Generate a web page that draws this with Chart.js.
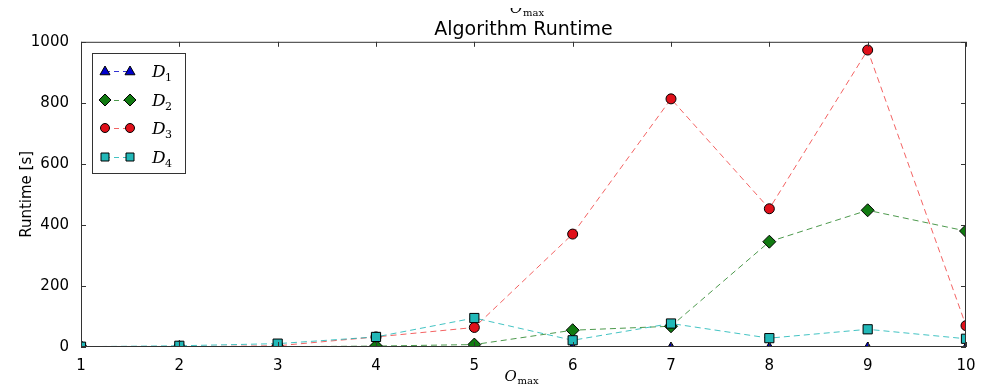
<!DOCTYPE html>
<html>
<head>
<meta charset="utf-8">
<script src="https://cdn.jsdelivr.net/npm/chart.js@4/dist/chart.umd.min.js"></script>
<style>
  html, body { margin: 0; padding: 0; background: #fff; }
  #wrap { width: 997px; height: 387px; }
</style>
</head>
<body>
<div id="wrap"><canvas id="runtime"></canvas></div>
<script>
'use strict';

// x axis: O_max values
var oMax = ['1', '2', '3', '4', '5', '6', '7', '8', '9', '10'];
var yTicks = [0, 200, 400, 600, 800, 1000];

// runtime in seconds
var d1 = [0, 0, 0, 0, 0, 0, 0, 0, 0, 0];
var d2 = [0, 0, 1, 3, 8, 55, 68, 345, 448, 380];
var d3 = [0, 1, 4, 33, 64, 370, 813, 453, 973, 70];
var d4 = [1, 4, 11, 33, 95, 22, 77, 29, 58, 27];

var seriesNames = ['D', 'D', 'D', 'D'];
var seriesSubs = ['1', '2', '3', '4'];

function drawMarker(ctx, style, r, x, y) {
  if (style === 'triangle') {
    ctx.moveTo(x, y - r);
    ctx.lineTo(x + r, y + r * 0.75);
    ctx.lineTo(x - r, y + r * 0.75);
    ctx.closePath();
  } else if (style === 'rectRot') {
    ctx.moveTo(x, y - r);
    ctx.lineTo(x + r, y);
    ctx.lineTo(x, y + r);
    ctx.lineTo(x - r, y);
    ctx.closePath();
  } else if (style === 'rect') {
    ctx.rect(x - r, y - r, r * 2, r * 2);
  } else {
    ctx.arc(x, y, r, 0, Math.PI * 2);
  }
}

// marker sizes used in the legend box
var legendSizes = [5, 6, 4.5, 4];

// frame + inward ticks on all four sides, like matplotlib
var framePlugin = {
  id: 'frame',
  afterDatasetsDraw: function(chart) {
    var ctx = chart.ctx;
    var a = chart.chartArea;
    var xs = chart.scales.x;
    var ys = chart.scales.y;
    ctx.save();
    ctx.strokeStyle = '#333';
    ctx.lineWidth = 1;
    ctx.strokeRect(a.left + 0.5, a.top + 0.5, a.right - a.left - 1, a.bottom - a.top - 1);
    ctx.beginPath();
    oMax.forEach(function(lbl, i) {
      var px = Math.round(xs.getPixelForValue(i)) + 0.5;
      ctx.moveTo(px, a.bottom); ctx.lineTo(px, a.bottom - 5);
      ctx.moveTo(px, a.top); ctx.lineTo(px, a.top + 5);
    });
    yTicks.forEach(function(v) {
      var py = Math.round(ys.getPixelForValue(v)) + 0.5;
      ctx.moveTo(a.left, py); ctx.lineTo(a.left + 5, py);
      ctx.moveTo(a.right, py); ctx.lineTo(a.right - 5, py);
    });
    ctx.stroke();
    ctx.restore();
  },
  afterDraw: function(chart) {
    var ctx = chart.ctx;
    var a = chart.chartArea;
    ctx.save();
    // x axis label O_max
    var cx = (a.left + a.right) / 2;
    ctx.fillStyle = '#000';
    ctx.textBaseline = 'alphabetic';
    ctx.textAlign = 'left';
    ctx.font = 'italic 15px "DejaVu Serif", serif';
    ctx.fillText('O', cx - 19, 381);
    ctx.font = '10px "DejaVu Serif", serif';
    ctx.fillText('max', cx - 6, 384);
    // clipped copy of the label at the very top
    ctx.save();
    ctx.beginPath();
    ctx.rect(490, 8, 80, 10);
    ctx.clip();
    ctx.font = 'italic 15px "DejaVu Serif", serif';
    ctx.fillText('O', 510, 13);
    ctx.font = '10px "DejaVu Serif", serif';
    ctx.fillText('max', 523, 16);
    ctx.restore();

    // legend box
    var lx = 92, ly = 53, lw = 93, lh = 120;
    ctx.fillStyle = '#fff';
    ctx.fillRect(lx, ly, lw, lh);
    ctx.strokeStyle = '#333';
    ctx.lineWidth = 1;
    ctx.strokeRect(lx + 0.5, ly + 0.5, lw, lh);
    chart.data.datasets.forEach(function(ds, i) {
      var y = Math.round(ly + 18 + i * 28.5);
      var x0 = lx + 13, x1 = lx + 38;
      ctx.save();
      ctx.strokeStyle = ds.borderColor;
      ctx.lineWidth = 1;
      ctx.setLineDash([5, 4]);
      ctx.beginPath();
      ctx.moveTo(x0, y + 0.5); ctx.lineTo(x1, y + 0.5);
      ctx.stroke();
      ctx.restore();
      [x0, x1].forEach(function(px) {
        ctx.fillStyle = ds.pointBackgroundColor;
        ctx.strokeStyle = '#000';
        ctx.lineWidth = 1;
        ctx.beginPath();
        drawMarker(ctx, ds.pointStyle, legendSizes[i], px, y);
        ctx.fill();
        ctx.stroke();
      });
      ctx.fillStyle = '#000';
      ctx.font = 'italic 17px "DejaVu Serif", serif';
      ctx.fillText(seriesNames[i], lx + 60, y + 6);
      ctx.font = '11px "DejaVu Serif", serif';
      ctx.fillText(seriesSubs[i], lx + 73, y + 10);
    });
    ctx.restore();
  }
};

function makeSeries(values, color, fill, style, radius, order) {
  return {
    data: values,
    borderColor: color,
    borderWidth: 1,
    borderDash: [6, 4],
    pointStyle: style,
    pointRadius: radius,
    pointBackgroundColor: fill,
    pointBorderColor: '#000',
    pointBorderWidth: 1,
    tension: 0,
    clip: 0,
    order: order
  };
}

var ctx = document.getElementById('runtime');
var runtimeChart = new Chart(ctx, {
  type: 'line',
  data: {
    labels: oMax,
    datasets: [
      makeSeries(d1, 'rgba(0,0,200,0.8)', '#0000cc', 'triangle', 5, 4),
      makeSeries(d2, 'rgba(0,110,0,0.7)', '#117a11', 'rectRot', 6.5, 3),
      makeSeries(d3, 'rgba(240,60,60,0.8)', '#e0101a', 'circle', 5, 2),
      makeSeries(d4, 'rgba(20,180,180,0.8)', '#22b8b8', 'rect', 6.5, 1)
    ]
  },
  options: {
    responsive: true,
    maintainAspectRatio: false,
    animation: false,
    layout: { padding: { left: 0, right: 31, top: 0, bottom: 0 } },
    plugins: {
      legend: { display: false },
      tooltip: { enabled: false },
      title: {
        display: true,
        fullSize: false,
        text: 'Algorithm Runtime',
        color: '#000',
        font: { family: '"DejaVu Sans"', size: 19, weight: 'normal' },
        padding: { top: 19, bottom: 0 }
      }
    },
    scales: {
      x: {
        offset: false,
        grid: { display: false },
        border: { display: false },
        ticks: { color: '#000', font: { family: '"DejaVu Sans"', size: 15 }, padding: 2, maxRotation: 0, autoSkip: false },
        afterFit: function(scale) { scale.height = 40; }
      },
      y: {
        min: 0,
        max: 1000,
        grid: { display: false },
        border: { display: false },
        ticks: {
          color: '#000',
          font: { family: '"DejaVu Sans"', size: 15 },
          stepSize: 200,
          padding: 4,
          callback: function(v) { return String(v); }
        },
        title: {
          display: true,
          text: 'Runtime [s]',
          color: '#000',
          font: { family: '"DejaVu Sans"', size: 15 },
          padding: { top: 18, bottom: 0 }
        },
        afterFit: function(scale) { scale.width = 81; }
      }
    }
  },
  plugins: [framePlugin]
});
</script>
</body>
</html>
